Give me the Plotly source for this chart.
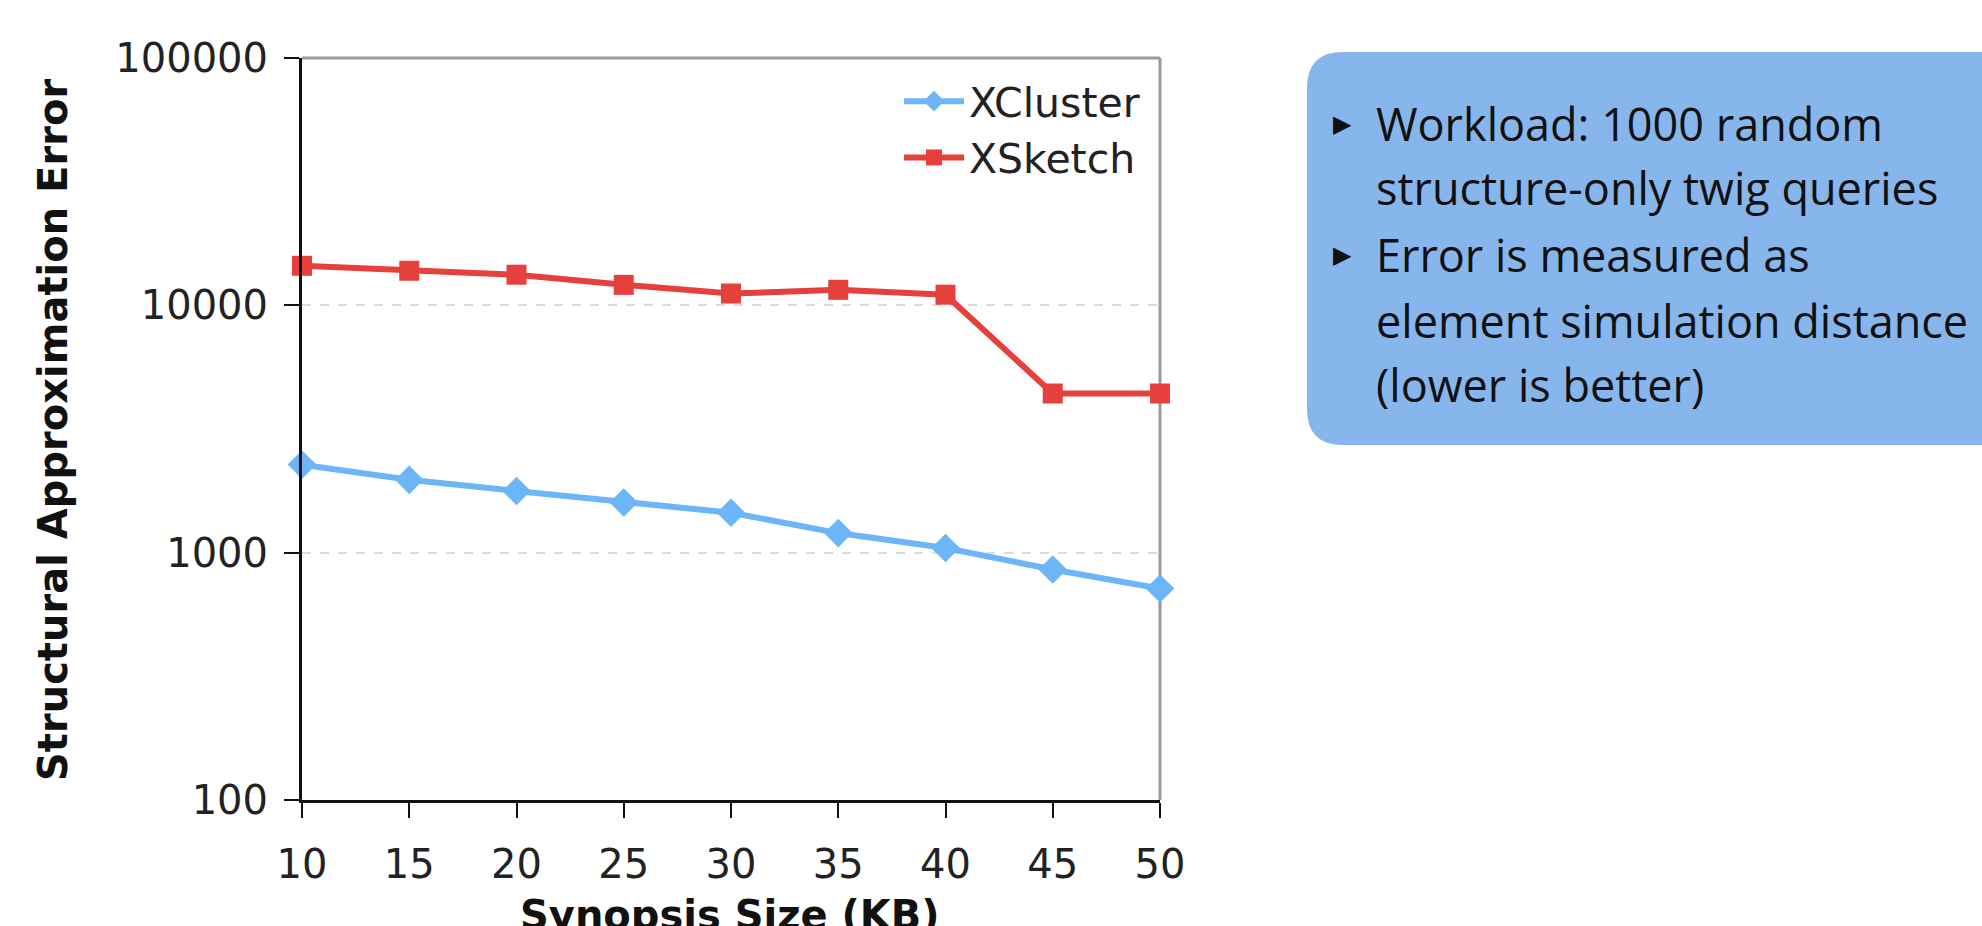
import plotly.graph_objects as go

sizes_kb = [10, 15, 20, 25, 30, 35, 40, 45, 50]
xcluster_err = [2270, 1970, 1775, 1595, 1450, 1200, 1045, 855, 716]
xsketch_err = [14450, 13800, 13300, 12100, 11160, 11560, 11040, 4400, 4400]
y_tick_vals = [100, 1000, 10000, 100000]
y_tick_text = ["100", "1000", "10000", "100000"]
x_tick_vals = [10, 15, 20, 25, 30, 35, 40, 45, 50]
note_lines = [
    "Workload: 1000 random",
    "structure-only twig queries",
    "Error is measured as",
    "element simulation distance",
    "(lower is better)",
]
bullet_flags = [True, False, True, False, False]

W, H = 1982, 926
L, R, T, B = 302, 1160, 58, 800


def px(x):
    return (x - L) / (R - L)


def py(y):
    return (B - y) / (B - T)


FONT = "DejaVu Sans, Verdana, sans-serif"
TICK_FONT = dict(family=FONT, size=40, color="#222222")

fig = go.Figure()
fig.add_trace(go.Scatter(
    x=sizes_kb, y=xcluster_err, name="XCluster", mode="lines+markers",
    line=dict(color="#6cb6f7", width=6),
    marker=dict(symbol="diamond", size=22, color="#6cb6f7"),
    cliponaxis=False,
))
fig.add_trace(go.Scatter(
    x=sizes_kb, y=xsketch_err, name="XSketch", mode="lines+markers",
    line=dict(color="#e5403b", width=6),
    marker=dict(symbol="square", size=20, color="#e5403b"),
    cliponaxis=False,
))

shapes = []
shapes.append(dict(type="line", xref="paper", yref="paper", x0=0, x1=1, y0=1, y1=1,
                   line=dict(color="#9a9a9a", width=3), layer="below"))
shapes.append(dict(type="line", xref="paper", yref="paper", x0=1, x1=1, y0=0, y1=1,
                   line=dict(color="#9a9a9a", width=3), layer="below"))

bx0, by0, bx1, by1, rr = 1307, 52, 2030, 445, 36
path = (
    f"M {px(bx0 + rr)},{py(by0)} L {px(bx1 - rr)},{py(by0)} "
    f"Q {px(bx1)},{py(by0)} {px(bx1)},{py(by0 + rr)} "
    f"L {px(bx1)},{py(by1 - rr)} Q {px(bx1)},{py(by1)} {px(bx1 - rr)},{py(by1)} "
    f"L {px(bx0 + rr)},{py(by1)} Q {px(bx0)},{py(by1)} {px(bx0)},{py(by1 - rr)} "
    f"L {px(bx0)},{py(by0 + rr)} Q {px(bx0)},{py(by0)} {px(bx0 + rr)},{py(by0)} Z"
)
shapes.append(dict(type="path", xref="paper", yref="paper", path=path,
                   fillcolor="#87b6ed", line=dict(width=0), layer="below"))

annotations = []
line_ys = [123, 188, 254, 320, 384]
for text, y, bullet in zip(note_lines, line_ys, bullet_flags):
    annotations.append(dict(
        xref="paper", yref="paper", x=px(1374), y=py(y), xanchor="left", yanchor="middle",
        text=text, showarrow=False,
        font=dict(family="Open Sans, Noto Sans, sans-serif", size=45, color="#111111"),
    ))
    if bullet:
        annotations.append(dict(
            xref="paper", yref="paper", x=px(1342), y=py(y + 1), xanchor="center", yanchor="middle",
            text="▶", showarrow=False,
            font=dict(family="DejaVu Sans", size=24, color="#111111"),
        ))

annotations.append(dict(
    xref="paper", yref="paper", x=px(53), y=py(430), xanchor="center", yanchor="middle",
    text="<b>Structural Approximation Error</b>", textangle=-90, showarrow=False,
    font=dict(family=FONT, size=40, color="#111111"),
))
annotations.append(dict(
    xref="paper", yref="paper", x=px(730), y=py(915), xanchor="center", yanchor="middle",
    text="<b>Synopsis Size (KB)</b>", showarrow=False,
    font=dict(family=FONT, size=40, color="#111111"),
))

fig.update_layout(
    width=W, height=H,
    margin=dict(l=L, r=W - R, t=T, b=H - B, pad=0),
    paper_bgcolor="white", plot_bgcolor="white",
    shapes=shapes, annotations=annotations,
    showlegend=True,
    legend=dict(
        x=px(1145), y=py(68), xanchor="right", yanchor="top",
        bgcolor="rgba(0,0,0,0)", font=dict(family=FONT, size=41, color="#222222"),
        itemwidth=60, tracegroupgap=0,
    ),
    xaxis=dict(
        range=[10, 50], tickvals=x_tick_vals, showgrid=False, zeroline=False,
        showline=True, linecolor="#111111", linewidth=3,
        ticks="outside", ticklen=15, tickwidth=2, tickcolor="#111111",
        tickfont=TICK_FONT, ticklabelstandoff=12,
    ),
    yaxis=dict(
        type="log", range=[2, 5], tickvals=y_tick_vals, ticktext=y_tick_text,
        showgrid=True, gridcolor="#dcdcdc", griddash="dash", gridwidth=2,
        zeroline=False, showline=True, linecolor="#111111", linewidth=3,
        ticks="outside", ticklen=15, tickwidth=2, tickcolor="#111111",
        tickfont=TICK_FONT, ticklabelstandoff=8,
    ),
)

fig.write_html(
    "out.html",
    config={"displayModeBar": False},
    post_script="document.body.style.margin='0';document.body.style.overflow='hidden';",
)
